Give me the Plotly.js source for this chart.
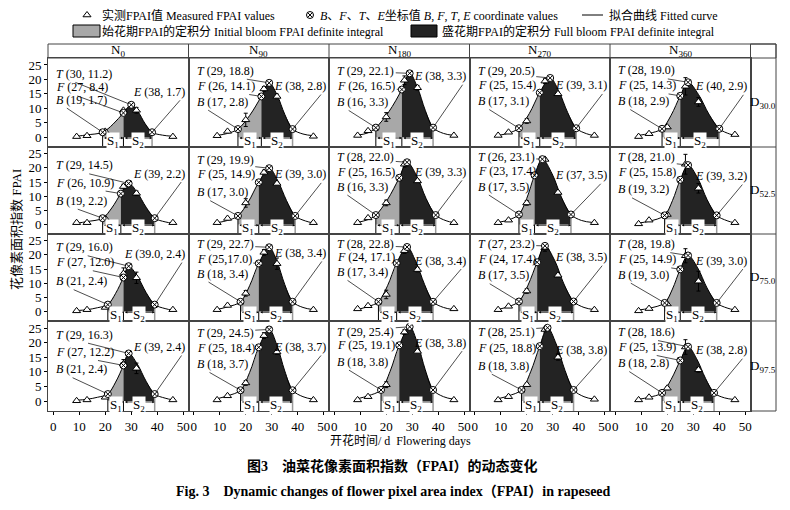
<!DOCTYPE html>
<html>
<head>
<meta charset="utf-8">
<script src="https://cdn.plot.ly/plotly-3.0.1.min.js"></script>
<style>
body { margin: 0; background: #fff; }
#chart { width: 790px; height: 510px; }
</style>
</head>
<body>
<div id="chart"></div>
<script>
var colNames = ["N<sub>0</sub>", "N<sub>90</sub>", "N<sub>180</sub>", "N<sub>270</sub>", "N<sub>360</sub>"];
var rowNames = ["D<sub>30.0</sub>", "D<sub>52.5</sub>", "D<sub>75.0</sub>", "D<sub>97.5</sub>"];
var days = [9, 13, 20, 27, 32, 46];
var xTicks = [0, 10, 20, 30, 40, 50];
var yTicks = [0, 5, 10, 15, 20, 25];

// measured FPAI (one list per N column) and error bars
var fpaiD30 = [[0.2, 0.5, 2.0, 9.3, 9.3, 0.2], [0.5, 2.0, 6.0, 16.7, 14.1, 0.3], [0.6, 2.2, 7.0, 19.7, 17.1, 0.6], [0.6, 1.7, 5.6, 19.4, 15.0, 0.6], [0.2, 1.2, 3.5, 17.6, 12.2, 0.9]];
var errD30 = [[0, 0, 0.5, 0, 1.0, 0], [0, 0, 2.3, 0.8, 0.8, 0], [0, 0.3, 1.5, 1.5, 0.8, 0], [0, 0, 0.8, 0.8, 0.5, 0], [0, 0, 0.5, 3.0, 1.5, 0]];
var fpaiD52 = [[0.6, 0.6, 2.1, 13.4, 11.0, 0.6], [0.6, 2.1, 7.6, 18.4, 14.5, 0.6], [0.6, 2.3, 7.6, 21.3, 15.4, 0.6], [0.6, 1.5, 7.6, 23.0, 11.3, 0.6], [0.2, 1.5, 3.5, 21.3, 12.8, 0.6]];
var errD52 = [[0, 0, 0.3, 0.8, 0.8, 0], [0, 0, 1.5, 0.8, 0.5, 0], [0, 0.3, 1.0, 1.0, 0.5, 0], [0, 0, 0.8, 0.5, 0.5, 0], [0, 0, 0.5, 3.5, 1.7, 0]];
var fpaiD75 = [[0.2, 0.6, 1.4, 13.4, 11.9, 0.6], [0.6, 2.1, 6.4, 20.9, 16.9, 0.6], [0.9, 2.0, 6.0, 21.5, 14.8, 0.9], [0.6, 1.8, 7.2, 22.5, 12.8, 0.6], [0.2, 1.0, 2.6, 19.7, 10.7, 0.6]];
var errD75 = [[0, 0, 0.3, 2.0, 2.0, 0], [0, 0, 1.0, 1.0, 2.0, 0], [0, 0, 1.5, 1.0, 0.8, 0], [0, 0, 0.8, 1.2, 0.5, 0], [0, 0, 0.4, 2.5, 3.5, 0]];
var fpaiD97 = [[0.1, 0.4, 1.3, 12.7, 11.2, 0.4], [0.4, 1.8, 6.2, 22.4, 16.8, 0.4], [0.4, 1.5, 5.6, 23.6, 17.0, 0.4], [0.4, 1.5, 5.6, 24.5, 15.0, 0.6], [0.4, 1.3, 4.4, 18.5, 10.7, 0.4]];
var errD97 = [[0, 0, 0.3, 1.5, 1.8, 0], [0, 0, 0.8, 1.0, 0.8, 0], [0, 0, 1.0, 0.8, 0.5, 0], [0, 0, 0.5, 0.8, 1.0, 0], [0, 0, 0.5, 2.5, 0.8, 0]];

// B, F, T, E coordinates
var bD30 = [[19, 1.7], [17, 2.8], [16, 3.3], [17, 3.1], [18, 2.9]];
var fD30 = [[27, 8.4], [26, 14.1], [26, 16.5], [25, 15.4], [25, 14.3]];
var tD30 = [[30, 11.2], [29, 18.8], [29, 22.1], [29, 20.5], [28, 19.0]];
var eD30 = [[38, 1.7], [38, 2.8], [38, 3.3], [39, 3.1], [40, 2.9]];
var bD52 = [[19, 2.2], [17, 3.0], [16, 3.3], [17, 3.5], [19, 3.2]];
var fD52 = [[26, 10.9], [25, 14.9], [25, 16.5], [23, 17.4], [25, 15.8]];
var tD52 = [[29, 14.5], [29, 19.9], [28, 22.0], [26, 23.1], [28, 21.0]];
var eD52 = [[39, 2.2], [39, 3.0], [39, 3.3], [37, 3.5], [39, 3.2]];
var bD75 = [[21, 2.4], [18, 3.4], [17, 3.4], [17, 3.5], [19, 3.0]];
var fD75 = [[27, 12.0], [25, 17.0], [24, 17.1], [24, 17.4], [25, 14.9]];
var tD75 = [[29, 16.0], [29, 22.7], [28, 22.8], [27, 23.2], [28, 19.8]];
var eD75 = [[39, 2.4], [38, 3.4], [38, 3.4], [38, 3.5], [39, 3.0]];
var bD97 = [[21, 2.4], [18, 3.7], [18, 3.8], [18, 3.8], [18, 2.8]];
var fD97 = [[27, 12.2], [25, 18.4], [25, 19.1], [25, 18.8], [25, 13.9]];
var tD97 = [[29, 16.3], [29, 24.5], [29, 25.4], [28, 25.1], [28, 18.6]];
var eD97 = [[39, 2.4], [38, 3.7], [38, 3.8], [38, 3.8], [38, 2.8]];

// fitted curve (day, FPAI)
var curveD30 = [
    [[9, 0.3], [13, 0.8], [19, 1.7], [23, 4.5], [27, 8.4], [30, 11.2], [32.7, 8.7], [35.3, 4.7], [38, 1.7], [42, 0.7], [46, 0.3]],
    [[9, 0.6], [13, 1.3], [17, 2.8], [21.5, 7.5], [26, 14.1], [29, 18.8], [32, 14.7], [35, 7.9], [38, 2.8], [42, 1.1], [46, 0.5]],
    [[9, 0.7], [13, 1.5], [16, 3.3], [21, 8.8], [26, 16.5], [29, 22.1], [32, 17.2], [35, 9.3], [38, 3.3], [42, 1.3], [46, 0.6]],
    [[9, 0.6], [13, 1.4], [17, 3.1], [21, 8.2], [25, 15.4], [29, 20.5], [32.3, 16.0], [35.7, 8.6], [39, 3.1], [43, 1.2], [46, 0.5]],
    [[9, 0.6], [13, 1.3], [18, 2.9], [21.5, 7.6], [25, 14.3], [28, 19.0], [32, 14.8], [36, 8.0], [40, 2.9], [44, 1.1], [46, 0.6]]
];
var curveD52 = [
    [[9, 0.4], [13, 1.0], [19, 2.2], [22.5, 5.8], [26, 10.9], [29, 14.5], [32.3, 11.3], [35.7, 6.1], [39, 2.2], [43, 0.9], [46, 0.4]],
    [[9, 0.6], [13, 1.4], [17, 3.0], [21, 8.0], [25, 14.9], [29, 19.9], [32.3, 15.5], [35.7, 8.4], [39, 3.0], [43, 1.2], [46, 0.5]],
    [[9, 0.7], [13, 1.7], [16, 3.3], [20.5, 8.8], [25, 16.5], [28, 22.0], [31.7, 17.2], [35.3, 9.2], [39, 3.3], [43, 1.3], [46, 0.6]],
    [[9, 0.7], [13, 1.6], [17, 3.5], [20, 9.2], [23, 17.4], [26, 23.1], [29.7, 18.0], [33.3, 9.7], [37, 3.5], [41, 1.4], [46, 0.6]],
    [[9, 0.5], [13, 1.1], [19, 3.2], [22, 8.4], [25, 15.8], [28, 21.0], [31.7, 16.4], [35.3, 8.8], [39, 3.2], [43, 1.3], [46, 0.5]]
];
var curveD75 = [
    [[9, 0.3], [13, 0.6], [17, 1.3], [21, 2.4], [24, 6.4], [27, 12.0], [29, 16.0], [32.3, 12.5], [35.7, 6.7], [39, 2.4], [43, 1.0], [46, 0.4]],
    [[9, 0.7], [13, 1.6], [18, 3.4], [21.5, 9.1], [25, 17.0], [29, 22.7], [32, 17.7], [35, 9.5], [38, 3.4], [42, 1.4], [46, 0.6]],
    [[9, 0.7], [13, 1.7], [17, 3.4], [20.5, 9.1], [24, 17.1], [28, 22.8], [31.3, 17.8], [34.7, 9.6], [38, 3.4], [42, 1.4], [46, 0.6]],
    [[9, 0.7], [13, 1.7], [17, 3.5], [20.5, 9.3], [24, 17.4], [27, 23.2], [30.7, 18.1], [34.3, 9.7], [38, 3.5], [42, 1.4], [46, 0.6]],
    [[9, 0.5], [13, 1.1], [19, 3.0], [22, 7.9], [25, 14.9], [28, 19.8], [31.7, 15.4], [35.3, 8.3], [39, 3.0], [43, 1.2], [46, 0.5]]
];
var curveD97 = [
    [[9, 0.3], [13, 0.6], [17, 1.3], [21, 2.4], [24, 6.5], [27, 12.2], [29, 16.3], [32.3, 12.7], [35.7, 6.8], [39, 2.4], [43, 1.0], [46, 0.4]],
    [[9, 0.8], [13, 1.8], [18, 3.7], [21.5, 9.8], [25, 18.4], [29, 24.5], [32, 19.1], [35, 10.3], [38, 3.7], [42, 1.5], [46, 0.6]],
    [[9, 0.8], [13, 1.8], [18, 3.8], [21.5, 10.2], [25, 19.1], [29, 25.4], [32, 19.8], [35, 10.7], [38, 3.8], [42, 1.5], [46, 0.6]],
    [[9, 0.8], [13, 1.8], [18, 3.8], [21.5, 10.0], [25, 18.8], [28, 25.1], [31.3, 19.6], [34.7, 10.5], [38, 3.8], [42, 1.5], [46, 0.6]],
    [[9, 0.6], [13, 1.3], [18, 2.8], [21.5, 7.4], [25, 13.9], [28, 18.6], [31.3, 14.5], [34.7, 7.8], [38, 2.8], [42, 1.1], [46, 0.5]]
];

// label heights for T, F, B, E (layout only)
var labelY = [
    [[21.9, 17.2, 13.0, 15.7], [23, 17.7, 12.3, 17.7], [23, 17.7, 12.2, 21.1], [22.9, 17.9, 12.5, 17.9], [23.1, 17.9, 12.5, 17.6]],
    [[20.9, 14.8, 8.4, 18], [22.7, 17.7, 11.4, 17.7], [23.8, 18.6, 13.4, 18.6], [23.9, 18.9, 13.4, 17.4], [23.8, 18.6, 12.4, 17.1]],
    [[22.7, 17.4, 10.7, 20.3], [23.8, 18.4, 13.4, 20.7], [23.8, 19.2, 14, 18], [23.8, 18.4, 12.8, 19.2], [23.8, 18.4, 13, 18]],
    [[22.7, 16.8, 10.9, 18.5], [23.2, 18, 12.7, 18.5], [23.8, 19.1, 13.5, 20], [23.6, 18.2, 12.1, 17.4], [23.6, 18.5, 13, 17.4]]
];
var labelText = { "2-0-E": "<i>E</i> (39.0, 2.4)", "2-1-F": "<i>F</i> (25,17.0)" };

var rowsData = [
    {fpai: fpaiD30, err: errD30, b: bD30, f: fD30, t: tD30, e: eD30, curve: curveD30},
    {fpai: fpaiD52, err: errD52, b: bD52, f: fD52, t: tD52, e: eD52, curve: curveD52},
    {fpai: fpaiD75, err: errD75, b: bD75, f: fD75, t: tD75, e: eD75, curve: curveD75},
    {fpai: fpaiD97, err: errD97, b: bD97, f: fD97, t: tD97, e: eD97, curve: curveD97}
];

var W = 790, H = 510;
var colEdges = [48, 188.5, 329, 469.5, 610, 750.5];
var rowEdges = [58, 147, 234, 321, 411];
var rightEdge = 776, headTop = 44;
var yMin = -3.4, yMax = 27.4;
var SERIF = "'Liberation Serif', 'Times New Roman', serif";
var MIXED = "'Liberation Serif', 'Noto Sans CJK SC', serif";
var INK = "#000";
var GRAYFILL = "#a8a8a8", DARKFILL = "#232323", FRAME = "#444";

function px(x) { return x / W; }
function py(y) { return 1 - y / H; }
function fmt(p) { return "(" + p[0] + ", " + p[1].toFixed(1) + ")"; }

var traces = [];
var annotations = [];
var shapes = [];
var layout = {
    width: W, height: H, autosize: false,
    margin: {l: 0, r: 0, t: 0, b: 0},
    paper_bgcolor: "#fff", plot_bgcolor: "rgba(0,0,0,0)",
    showlegend: false,
    font: {family: SERIF, color: INK, size: 12}
};

for (var r = 0; r < 4; r++) {
    for (var c = 0; c < 5; c++) {
        var k = r * 5 + c;
        var xa = k === 0 ? "x" : "x" + (k + 1);
        var ya = k === 0 ? "y" : "y" + (k + 1);
        var d = rowsData[r];
        var B = d.b[c], F = d.f[c], T = d.t[c], E = d.e[c];
        var curve = d.curve[c];
        var gray = curve.filter(function (p) { return p[0] >= B[0] && p[0] <= F[0]; });
        var dark = curve.filter(function (p) { return p[0] >= F[0] && p[0] <= E[0]; });

        layout["xaxis" + (k + 1)] = {
            domain: [px(colEdges[c]), px(colEdges[c + 1])],
            anchor: ya, range: [-2, 52], tickvals: xTicks,
            showticklabels: r === 3, ticks: r === 3 ? "outside" : "", ticklen: 3, tickcolor: INK,
            tickfont: {family: SERIF, size: 13, color: INK},
            showline: true, mirror: true, linecolor: FRAME, linewidth: 1,
            showgrid: false, zeroline: false, fixedrange: true
        };
        layout["yaxis" + (k + 1)] = {
            domain: [py(rowEdges[r + 1]), py(rowEdges[r])],
            anchor: xa, range: [yMin, yMax], tickvals: yTicks,
            showticklabels: c === 0, ticks: c === 0 ? "outside" : "", ticklen: 3, tickcolor: INK,
            tickfont: {family: SERIF, size: 13, color: INK},
            showline: true, mirror: true, linecolor: FRAME, linewidth: 1,
            showgrid: false, zeroline: false, fixedrange: true
        };

        traces.push({
            x: gray.map(function (p) { return p[0]; }), y: gray.map(function (p) { return p[1]; }),
            xaxis: xa, yaxis: ya, mode: "lines", line: {width: 0, shape: "spline"},
            fill: "tozeroy", fillcolor: GRAYFILL, hoverinfo: "skip"
        });
        traces.push({
            x: dark.map(function (p) { return p[0]; }), y: dark.map(function (p) { return p[1]; }),
            xaxis: xa, yaxis: ya, mode: "lines", line: {width: 0, shape: "spline"},
            fill: "tozeroy", fillcolor: DARKFILL, hoverinfo: "skip"
        });
        traces.push({
            x: curve.map(function (p) { return p[0]; }), y: curve.map(function (p) { return p[1]; }),
            xaxis: xa, yaxis: ya, mode: "lines", line: {width: 1, color: INK, shape: "spline"},
            hoverinfo: "skip"
        });
        // drop lines under B and F, and E
        traces.push({
            x: [B[0], B[0], null, F[0], F[0]], y: [B[1], yMin, null, 0, yMin],
            xaxis: xa, yaxis: ya, mode: "lines", line: {width: 1, color: INK}, hoverinfo: "skip"
        });
        traces.push({
            x: [E[0], E[0]], y: [E[1], yMin],
            xaxis: xa, yaxis: ya, mode: "lines", line: {width: 1.5, color: "#999"}, hoverinfo: "skip"
        });
        traces.push({
            x: days, y: d.fpai[c], xaxis: xa, yaxis: ya, mode: "markers",
            marker: {symbol: "triangle-up", size: 7, color: "#fff", line: {width: 1, color: INK}},
            error_y: {type: "data", array: d.err[c], visible: true, color: INK, thickness: 1, width: 2},
            cliponaxis: false, hoverinfo: "skip"
        });
        traces.push({
            x: [B[0], F[0], T[0], E[0]], y: [B[1], F[1], T[1], E[1]], xaxis: xa, yaxis: ya, mode: "markers",
            marker: {symbol: "circle-x", size: 7, color: "#fff", line: {width: 1, color: INK}},
            cliponaxis: false, hoverinfo: "skip"
        });

        // S1 / S2 span arrows and labels
        [[B[0], F[0], "S<sub>1</sub>"], [F[0], E[0], "S<sub>2</sub>"]].forEach(function (s) {
            annotations.push({
                xref: xa, yref: ya, axref: xa, ayref: ya, x: s[1], y: -0.3, ax: s[0], ay: -0.3,
                text: "", showarrow: true, arrowhead: 2, arrowsize: 0.6, arrowwidth: 0.8,
                arrowside: "end+start", arrowcolor: INK, standoff: 0, startstandoff: 0
            });
            annotations.push({
                xref: xa, yref: ya, x: (s[0] + s[1]) / 2, y: -1.6, text: s[2], showarrow: false,
                bgcolor: "#fff", borderpad: 0, font: {family: SERIF, size: 13, color: INK}
            });
        });

        // coordinate labels
        var ly = labelY[r][c];
        var pts = [["T", T, ly[0]], ["F", F, ly[1]], ["B", B, ly[2]], ["E", E, ly[3]]];
        pts.forEach(function (q) {
            var key = r + "-" + c + "-" + q[0];
            var txt = labelText[key] || ("<i>" + q[0] + "</i> " + fmt(q[1]));
            var isE = q[0] === "E";
            annotations.push({
                xref: xa, yref: ya, axref: xa, ayref: ya,
                x: q[1][0], y: q[1][1], ax: isE ? 51.6 : 0.4, ay: q[2],
                xanchor: isE ? "right" : "left", text: txt,
                showarrow: true, arrowhead: 0, arrowwidth: 0.7, arrowcolor: INK, standoff: 3,
                font: {family: SERIF, size: 12, color: INK}
            });
        });
    }
}

// legend glyph axes covering the page in pixels
layout.xaxis21 = {domain: [0, 1], range: [0, W], visible: false, anchor: "y21", fixedrange: true};
layout.yaxis21 = {domain: [0, 1], range: [H, 0], visible: false, anchor: "x21", fixedrange: true};
traces.push({
    x: [87], y: [15], xaxis: "x21", yaxis: "y21", mode: "markers", cliponaxis: false, hoverinfo: "skip",
    marker: {symbol: "triangle-up", size: 7, color: "#fff", line: {width: 1, color: INK}}
});
traces.push({
    x: [310], y: [15], xaxis: "x21", yaxis: "y21", mode: "markers", cliponaxis: false, hoverinfo: "skip",
    marker: {symbol: "circle-x", size: 7, color: "#fff", line: {width: 1, color: INK}}
});

function paperText(x, y, text, opts) {
    var a = {xref: "paper", yref: "paper", x: px(x), y: py(y), text: text, showarrow: false,
        xanchor: "left", yanchor: "middle", font: {family: MIXED, size: 12, color: INK}};
    for (var o in opts) a[o] = opts[o];
    annotations.push(a);
}

paperText(100, 15, "实测FPAI值 Measured FPAI values");
paperText(318, 15, "<i>B</i>、<i>F</i>、<i>T</i>、<i>E</i>坐标值 <i>B</i>, <i>F</i>, <i>T</i>, <i>E</i> coordinate values");
paperText(607, 15, "拟合曲线 Fitted curve");
paperText(100, 31, "始花期FPAI的定积分 Initial bloom FPAI definite integral");
paperText(440, 31, "盛花期FPAI的定积分 Full bloom FPAI definite integral");

shapes.push({type: "line", xref: "paper", yref: "paper", x0: px(582), x1: px(603), y0: py(15), y1: py(15), line: {color: INK, width: 1}});
shapes.push({type: "rect", xref: "paper", yref: "paper", x0: px(73), x1: px(100), y0: py(25), y1: py(37), fillcolor: GRAYFILL, line: {color: INK, width: 1}});
shapes.push({type: "rect", xref: "paper", yref: "paper", x0: px(411), x1: px(437), y0: py(25), y1: py(37), fillcolor: DARKFILL, line: {color: INK, width: 1}});

// header row and right label column
shapes.push({type: "rect", xref: "paper", yref: "paper", x0: px(colEdges[0]), x1: px(rightEdge), y0: py(headTop), y1: py(rowEdges[0]), line: {color: FRAME, width: 1}});
shapes.push({type: "rect", xref: "paper", yref: "paper", x0: px(colEdges[5]), x1: px(rightEdge), y0: py(headTop), y1: py(rowEdges[4]), line: {color: FRAME, width: 1}});
for (var i = 1; i < colEdges.length; i++) {
    shapes.push({type: "line", xref: "paper", yref: "paper", x0: px(colEdges[i]), x1: px(colEdges[i]), y0: py(headTop), y1: py(rowEdges[0]), line: {color: FRAME, width: 1}});
}
for (var j = 1; j < rowEdges.length - 1; j++) {
    shapes.push({type: "line", xref: "paper", yref: "paper", x0: px(colEdges[5]), x1: px(rightEdge), y0: py(rowEdges[j]), y1: py(rowEdges[j]), line: {color: FRAME, width: 1}});
}
colNames.forEach(function (n, i) {
    paperText((colEdges[i] + colEdges[i + 1]) / 2, 51, n, {xanchor: "center", font: {family: SERIF, size: 13, color: INK}});
});
rowNames.forEach(function (n, i) {
    paperText((colEdges[5] + rightEdge) / 2, (rowEdges[i] + rowEdges[i + 1]) / 2, n, {xanchor: "center", font: {family: SERIF, size: 13, color: INK}});
});

// axis titles and caption
paperText(17, 230, "花像素面积指数 FPAI", {xanchor: "center", textangle: -90, font: {family: MIXED, size: 13, color: INK}});
paperText(400, 440, "开花时间/ d  Flowering days", {xanchor: "center", font: {family: MIXED, size: 12, color: INK}});
paperText(392, 466, "<b>图3    油菜花像素面积指数（FPAI）的动态变化</b>", {xanchor: "center", font: {family: MIXED, size: 14, color: INK}});
paperText(393, 491, "<b>Fig. 3    Dynamic changes of flower pixel area index（FPAI）in rapeseed</b>", {xanchor: "center", font: {family: MIXED, size: 14, color: INK}});

layout.annotations = annotations;
layout.shapes = shapes;

Plotly.newPlot(document.getElementById("chart"), traces, layout, {displayModeBar: false, staticPlot: true});
</script>
</body>
</html>
